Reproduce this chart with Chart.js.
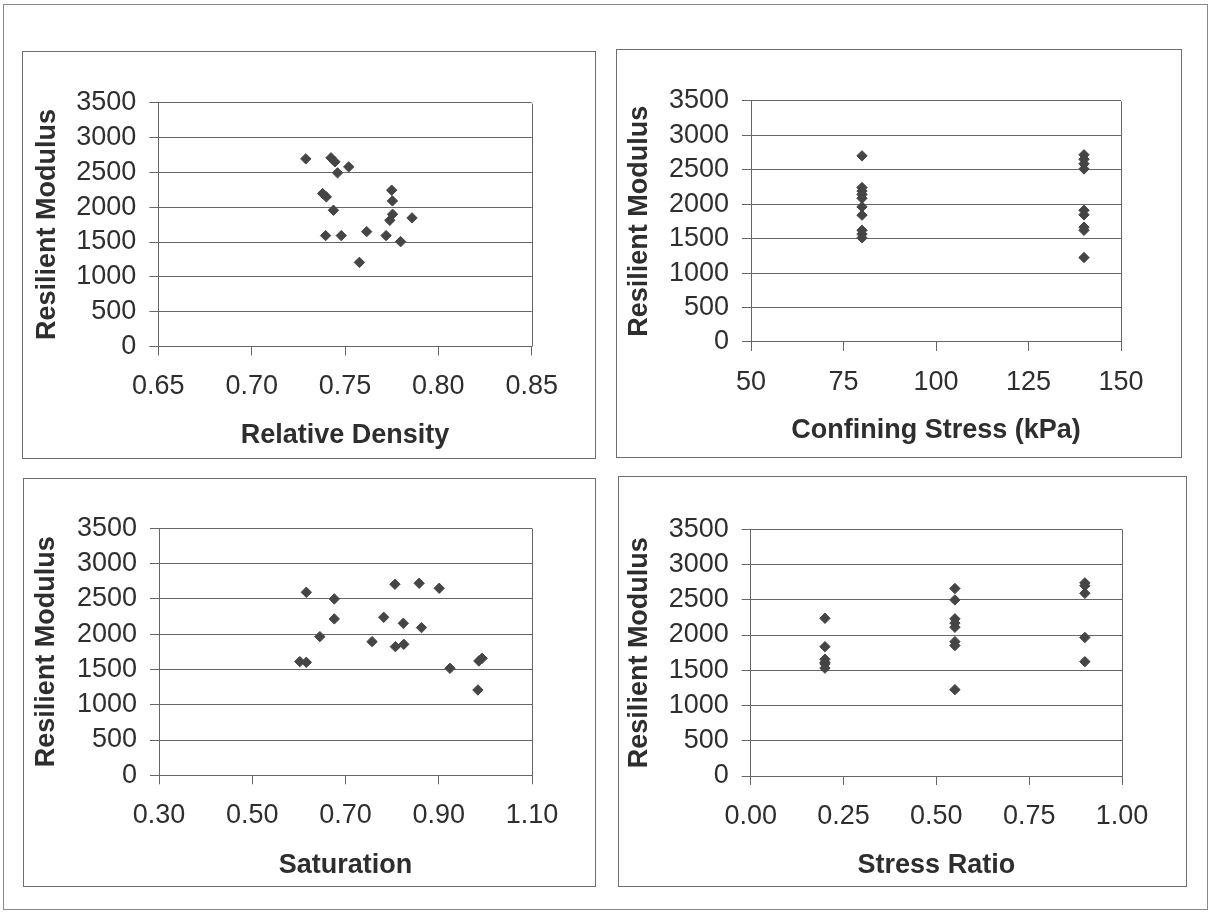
<!DOCTYPE html>
<html><head><meta charset="utf-8">
<script src="https://cdn.jsdelivr.net/npm/chart.js@4.4.1/dist/chart.umd.min.js"></script>
<style>
html,body{margin:0;padding:0;background:#fff;}
body{width:1213px;height:912px;position:relative;overflow:hidden;}
#frame{position:absolute;left:3px;top:4px;width:1205px;height:906px;border:1px solid #8a8a8a;box-sizing:border-box;}
.panel{position:absolute;border:1px solid #6e6e6e;box-sizing:border-box;background:#fff;}
.panel canvas{position:absolute;left:0;top:0;}
</style></head><body>
<div id="frame"></div>
<div class="panel" style="left:22px;top:51px;width:574px;height:408px"><canvas id="c1" width="572" height="406"></canvas></div>
<div class="panel" style="left:616px;top:49px;width:566px;height:409px"><canvas id="c2" width="564" height="407"></canvas></div>
<div class="panel" style="left:23px;top:478px;width:573px;height:409px"><canvas id="c3" width="571" height="407"></canvas></div>
<div class="panel" style="left:618px;top:476px;width:569px;height:411px"><canvas id="c4" width="567" height="409"></canvas></div>
<script>
// ---- data ----
const yTitle = 'Resilient Modulus';
const yTickValues = [0, 500, 1000, 1500, 2000, 2500, 3000, 3500];

const relDensityTitle = 'Relative Density';
const relDensityTicks = [0.65, 0.70, 0.75, 0.80, 0.85];
const relDensityTickLabels = ['0.65', '0.70', '0.75', '0.80', '0.85'];
const relDensity   = [0.729, 0.7425, 0.7446, 0.746, 0.752, 0.738, 0.740, 0.7438, 0.7396, 0.748, 0.7616, 0.7577, 0.775, 0.7754, 0.7755, 0.774, 0.772, 0.7798, 0.7859];
const relDensityMr = [2694, 2709, 2651, 2493, 2579, 2196, 2148, 1956, 1592, 1592, 1649, 1208, 2244, 2090, 1898, 1812, 1592, 1505, 1846];

const confStressTitle = 'Confining Stress (kPa)';
const confStressTicks = [50, 75, 100, 125, 150];
const confStressTickLabels = ['50', '75', '100', '125', '150'];
const confStress   = [80, 80, 80, 80, 80, 80, 80, 80, 80, 80, 140, 140, 140, 140, 140, 140, 140, 140, 140];
const confStressMr = [2700, 2240, 2190, 2140, 2085, 1960, 1840, 1620, 1565, 1510, 2715, 2650, 2585, 2510, 1910, 1845, 1665, 1620, 1225];

const saturationTitle = 'Saturation';
const saturationTicks = [0.30, 0.50, 0.70, 0.90, 1.10];
const saturationTickLabels = ['0.30', '0.50', '0.70', '0.90', '1.10'];
const saturation   = [0.602, 0.616, 0.616, 0.645, 0.676, 0.676, 0.757, 0.782, 0.806, 0.807, 0.824, 0.825, 0.858, 0.863, 0.901, 0.924, 0.984, 0.986, 0.993];
const saturationMr = [1611, 1601, 2593, 1965, 2499, 2216, 1894, 2239, 2707, 1823, 2154, 1856, 2721, 2093, 2650, 1516, 1209, 1620, 1658];

const stressRatioTitle = 'Stress Ratio';
const stressRatioTicks = [0.00, 0.25, 0.50, 0.75, 1.00];
const stressRatioTickLabels = ['0.00', '0.25', '0.50', '0.75', '1.00'];
const stressRatio   = [0.2, 0.2, 0.2, 0.2, 0.2, 0.2, 0.55, 0.55, 0.55, 0.55, 0.55, 0.55, 0.55, 0.55, 0.9, 0.9, 0.9, 0.9, 0.9];
const stressRatioMr = [2237, 1835, 1656, 1610, 1590, 1530, 2660, 2498, 2230, 2170, 2110, 1906, 1850, 1225, 2740, 2700, 2592, 1965, 1622];

// ---- drawing ----
const FONT = '"Liberation Sans", Arial, Helvetica, sans-serif';
const TEXT = '#2e2e2e';
const GRID = '#666666';
const MARK = '#454545';

const frameRight = {
  id: 'frameRight',
  afterDraw(chart) {
    const {ctx, chartArea: a} = chart;
    const x = Math.round(a.right) + 0.5;
    ctx.save();
    ctx.strokeStyle = GRID; ctx.lineWidth = 1;
    ctx.beginPath(); ctx.moveTo(x, Math.round(a.top) + 0.5); ctx.lineTo(x, Math.round(a.bottom) + 0.5); ctx.stroke();
    ctx.restore();
  }
};

function makeChart(id, xs, ys, xTicks, xLabels, xTitleText, geo) {
  const cv = document.getElementById(id);
  const w = cv.width, h = cv.height;
  const lh = 27 * 1.2;
  const xH = geo.xTitleDy + lh / 2 + 2;
  const pts = xs.map((x, i) => ({x: x, y: ys[i]}));
  new Chart(cv, {
    type: 'scatter',
    data: {datasets: [{
      data: pts,
      pointStyle: 'rectRot',
      pointRadius: 5.2,
      pointBackgroundColor: MARK,
      pointBorderColor: MARK,
      pointBorderWidth: 1
    }]},
    options: {
      responsive: false, animation: false, devicePixelRatio: 1,
      layout: {padding: {left: 0, top: geo.top, right: w - geo.right, bottom: h - (geo.bottom + xH)}},
      plugins: {legend: {display: false}, tooltip: {enabled: false}},
      scales: {
        x: {
          type: 'linear', position: 'bottom',
          min: xTicks[0], max: xTicks[xTicks.length - 1],
          afterBuildTicks: s => { s.ticks = xTicks.map(v => ({value: v})); },
          afterFit: s => { s.height = xH; },
          ticks: {
            autoSkip: false, maxRotation: 0, padding: 15, color: TEXT,
            font: {family: FONT, size: 27},
            callback: (v, i) => xLabels[i]
          },
          grid: {drawOnChartArea: false, drawTicks: true, tickLength: 9, color: GRID, lineWidth: 1},
          border: {display: true, color: GRID, width: 1},
          title: {display: true, text: xTitleText, color: TEXT, padding: {top: 0, bottom: 2},
                  font: {family: FONT, size: 27, weight: 'bold'}}
        },
        y: {
          type: 'linear', position: 'left',
          min: yTickValues[0], max: yTickValues[yTickValues.length - 1],
          afterBuildTicks: s => { s.ticks = yTickValues.map(v => ({value: v})); },
          afterFit: s => { s.width = geo.left; },
          ticks: {
            autoSkip: false, padding: 13, color: TEXT,
            font: {family: FONT, size: 27},
            callback: v => String(v)
          },
          grid: {drawOnChartArea: true, drawTicks: true, tickLength: 9, color: GRID, lineWidth: 1},
          border: {display: true, color: GRID, width: 1},
          title: {display: true, text: yTitle, color: TEXT, padding: {top: geo.yTitleX - lh / 2, bottom: 0},
                  font: {family: FONT, size: 27, weight: 'bold'}}
        }
      }
    },
    plugins: [frameRight]
  });
}

makeChart('c1', relDensity, relDensityMr, relDensityTicks, relDensityTickLabels, relDensityTitle,
  {left: 135.3, top: 50.7, right: 508.7, bottom: 294.5, yTitleX: 24.8, xTitleDy: 89.2});
makeChart('c2', confStress, confStressMr, confStressTicks, confStressTickLabels, confStressTitle,
  {left: 134, top: 50.7, right: 504, bottom: 292, yTitleX: 23, xTitleDy: 88.7});
makeChart('c3', saturation, saturationMr, saturationTicks, saturationTickLabels, saturationTitle,
  {left: 135, top: 49.3, right: 508, bottom: 296.3, yTitleX: 22.9, xTitleDy: 90.7});
makeChart('c4', stressRatio, stressRatioMr, stressRatioTicks, stressRatioTickLabels, stressRatioTitle,
  {left: 131.7, top: 52.3, right: 503, bottom: 299, yTitleX: 20.9, xTitleDy: 90});
</script>
</body></html>
